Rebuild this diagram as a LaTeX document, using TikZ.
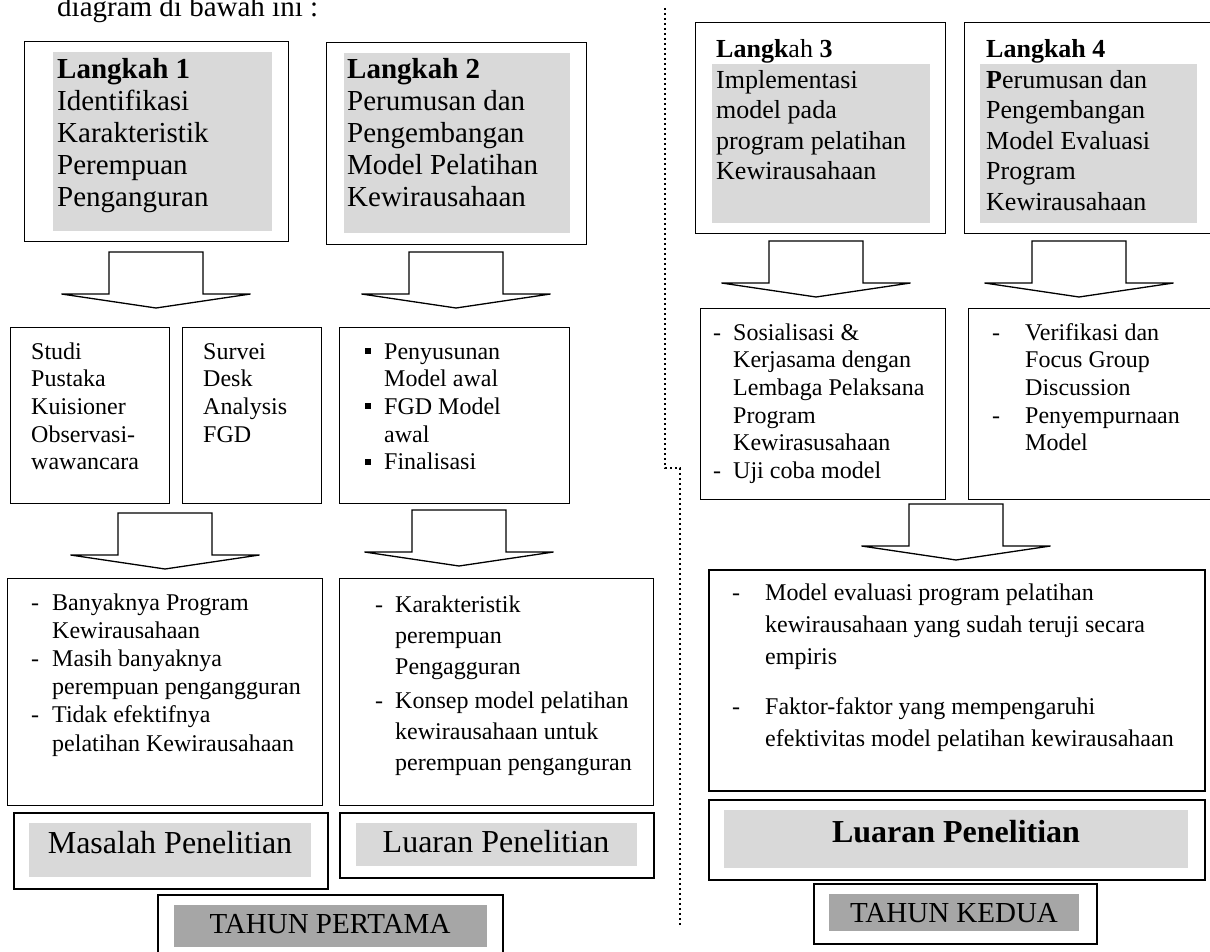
\documentclass[tikz,border=0pt]{standalone}
\usepackage{fontspec}
\setmainfont{Liberation Serif}
\definecolor{lg}{RGB}{217,217,217}
\definecolor{dg}{RGB}{166,166,166}
\newcommand\hd[1]{\makebox[#1][l]{-}}
\newcommand\hi[1]{\hspace*{#1}}
\newcommand\sqb{\makebox[19pt][l]{\rule[5pt]{6pt}{6pt}}}
\newcommand\barrow[2]{\coordinate (#1) at (#2);
  \draw[blockarrow] (#1) ++(-47,0) -- ++(94,0) -- ++(0,42) -- ++(47.5,0) -- ++(-94.5,14) -- ++(-94.5,-14) -- ++(47.5,0) -- cycle;}
\tikzset{
  box/.style={draw, line width=1.3pt, inner sep=0pt, anchor=north west},
  thickbox/.style={box, line width=2pt},
  shade/.style={fill=lg, draw=none, inner sep=0pt, anchor=north west},
  darkshade/.style={shade, fill=dg},
  txt/.style={inner sep=0pt, anchor=base west},
  ctxt/.style={inner sep=0pt, anchor=base},
  blockarrow/.style={draw, line width=1.3pt, fill=white, line join=miter},
  divider/.style={line width=2.4pt, dash pattern=on 2.4pt off 2.6pt}
}
\begin{document}
\begin{tikzpicture}[x=1pt,y=-1pt]
\useasboundingbox (0,0) rectangle (1210,952);
% top text
\node[txt, font=\fontsize{29}{32}\selectfont] (top) at (57,17) {diagram di bawah ini :};
% divider
\coordinate (d1) at (665,8);
\coordinate (d2) at (665,468);
\coordinate (d3) at (680,468);
\coordinate (d4) at (680,927);
\draw[divider] (d1) -- (d2) -- (d3) -- (d4);
% step boxes
\node[box, minimum width=264pt, minimum height=200pt] (L1) at (24,41) {};
\node[box, minimum width=260pt, minimum height=202pt] (L2) at (326,42) {};
\node[box, minimum width=250pt, minimum height=211pt] (L3) at (695,22) {};
\node[box, minimum width=251pt, minimum height=211pt] (L4) at (964,22) {};
\node[shade, minimum width=219pt, minimum height=179pt] (g1) at (53,52) {};
\node[shade, minimum width=226pt, minimum height=180pt] (g2) at (344,53) {};
\node[shade, minimum width=218pt, minimum height=159pt] (g3) at (712,64) {};
\node[shade, minimum width=217pt, minimum height=159pt] (g4) at (980,64) {};
\node[txt, font=\fontsize{29}{32}\selectfont] (t1) at (57,79)
  {\begin{tabular}[t]{@{}l@{}}\textbf{Langkah 1}\\Identifikasi\\Karakteristik\\Perempuan\\Penganguran\end{tabular}};
\node[txt, font=\fontsize{29}{32}\selectfont] (t2) at (347,79)
  {\begin{tabular}[t]{@{}l@{}}\textbf{Langkah 2}\\Perumusan dan\\Pengembangan\\Model Pelatihan\\Kewirausahaan\end{tabular}};
\node[txt, font=\fontsize{26}{30.5}\selectfont] (t3) at (716,58)
  {\begin{tabular}[t]{@{}l@{}}\textbf{Langk}ah \textbf{3}\\Implementasi\\model pada\\program pelatihan\\Kewirausahaan\end{tabular}};
\node[txt, font=\fontsize{26}{30.5}\selectfont] (t4) at (986,58)
  {\begin{tabular}[t]{@{}l@{}}\textbf{Langkah 4}\\\textbf{P}erumusan dan\\Pengembangan\\Model Evaluasi\\Program\\Kewirausahaan\end{tabular}};
% first arrows
\barrow{ar1}{156,252}
\barrow{ar2}{456,252}
\barrow{ar5}{816,241}
\barrow{ar6}{1079,241}
% method boxes
\node[box, minimum width=159pt, minimum height=176pt] (A) at (10,327) {};
\node[box, minimum width=139pt, minimum height=176pt] (B) at (182,327) {};
\node[box, minimum width=230pt, minimum height=176pt] (C) at (339,327) {};
\node[box, minimum width=245pt, minimum height=191pt] (D) at (700,308) {};
\node[box, minimum width=247pt, minimum height=191pt] (E) at (968,308) {};
\node[txt, font=\fontsize{24}{27.7}\selectfont] (tA) at (31,359)
  {\begin{tabular}[t]{@{}l@{}}Studi\\Pustaka\\Kuisioner\\Observasi-\\wawancara\end{tabular}};
\node[txt, font=\fontsize{24}{27.7}\selectfont] (tB) at (203,359)
  {\begin{tabular}[t]{@{}l@{}}Survei\\Desk\\Analysis\\FGD\end{tabular}};
\node[txt, font=\fontsize{24}{27.7}\selectfont] (tC) at (365,359)
  {\begin{tabular}[t]{@{}l@{}}\sqb Penyusunan\\\hi{19pt}Model awal\\\sqb FGD Model\\\hi{19pt}awal\\\sqb Finalisasi\end{tabular}};
\node[txt, font=\fontsize{24}{27.7}\selectfont] (tD) at (713,340)
  {\begin{tabular}[t]{@{}l@{}}\hd{20pt}Sosialisasi \&\\\hi{20pt}Kerjasama dengan\\\hi{20pt}Lembaga Pelaksana\\\hi{20pt}Program\\\hi{20pt}Kewirasusahaan\\\hd{20pt}Uji coba model\end{tabular}};
\node[txt, font=\fontsize{24}{27.7}\selectfont] (tE) at (992,340)
  {\begin{tabular}[t]{@{}l@{}}\hd{33pt}Verifikasi dan\\\hi{33pt}Focus Group\\\hi{33pt}Discussion\\\hd{33pt}Penyempurnaan\\\hi{33pt}Model\end{tabular}};
% second arrows
\barrow{ar3}{165,513}
\barrow{ar4}{459,510}
\barrow{ar7}{956,504}
% result boxes
\node[box, minimum width=315pt, minimum height=227pt] (F) at (7,578) {};
\node[box, minimum width=314pt, minimum height=227pt] (G) at (339,578) {};
\node[thickbox, minimum width=496pt, minimum height=221pt] (K) at (708,569) {};
\node[txt, font=\fontsize{24}{28.2}\selectfont] (tF) at (31,610)
  {\begin{tabular}[t]{@{}l@{}}\hd{21pt}Banyaknya Program\\\hi{21pt}Kewirausahaan\\\hd{21pt}Masih banyaknya\\\hi{21pt}perempuan pengangguran\\\hd{21pt}Tidak efektifnya\\\hi{21pt}pelatihan Kewirausahaan\end{tabular}};
\node[txt, font=\fontsize{24}{31}\selectfont] (tG) at (375,612)
  {\begin{tabular}[t]{@{}l@{}}\hd{20pt}Karakteristik\\\hi{20pt}perempuan\\\hi{20pt}Pengagguran\\[3pt]\hd{20pt}Konsep model pelatihan\\\hi{20pt}kewirausahaan untuk\\\hi{20pt}perempuan penganguran\end{tabular}};
\node[txt, font=\fontsize{24}{32}\selectfont] (tK) at (732,600)
  {\begin{tabular}[t]{@{}l@{}}\hd{33pt}Model evaluasi program pelatihan\\\hi{33pt}kewirausahaan yang sudah teruji secara\\\hi{33pt}empiris\\[18pt]\hd{33pt}Faktor-faktor yang mempengaruhi\\\hi{33pt}efektivitas model pelatihan kewirausahaan\end{tabular}};
% label boxes
\node[thickbox, minimum width=314pt, minimum height=76pt] (H) at (13,812) {};
\node[thickbox, minimum width=314pt, minimum height=65pt] (I) at (339,812) {};
\node[thickbox, minimum width=496pt, minimum height=80pt] (LR) at (708,799) {};
\node[shade, minimum width=282pt, minimum height=54pt] (gH) at (29,823) {};
\node[shade, minimum width=281pt, minimum height=43pt] (gI) at (356,823) {};
\node[shade, minimum width=464pt, minimum height=58pt] (gLR) at (724,810) {};
\node[ctxt, font=\fontsize{32}{36}\selectfont] (tH) at (170,853) {Masalah Penelitian};
\node[ctxt, font=\fontsize{32}{36}\selectfont] (tI) at (496,852) {Luaran Penelitian};
\node[ctxt, font=\fontsize{32}{36}\selectfont\bfseries] (tLR) at (956,842) {Luaran Penelitian};
% year boxes
\node[thickbox, minimum width=345pt, minimum height=70pt] (J) at (157,894) {};
\node[thickbox, minimum width=283pt, minimum height=60pt] (TK) at (813,883) {};
\node[darkshade, minimum width=313pt, minimum height=42pt] (gJ) at (174,905) {};
\node[darkshade, minimum width=250pt, minimum height=37pt] (gTK) at (829,894) {};
\node[ctxt, font=\fontsize{29}{32}\selectfont] (tJ) at (330,933) {TAHUN PERTAMA};
\node[ctxt, font=\fontsize{29}{32}\selectfont] (tTK) at (954,922) {TAHUN KEDUA};
\end{tikzpicture}
\end{document}
